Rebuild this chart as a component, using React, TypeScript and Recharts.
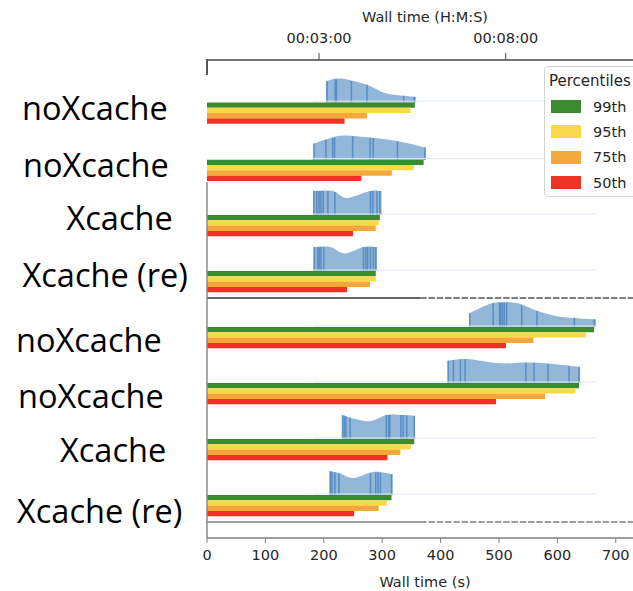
import React from 'react'
import { Bar, BarChart, Label, Legend, ReferenceLine, XAxis, YAxis } from 'recharts'

// one entry per group, top to bottom (g1-g2 belong to the upper panel)
const groupIds = ['g1', 'g2', 'g3', 'g4', 'g5', 'g6', 'g7', 'g8']
const groupLabels = [
  'noXcache',
  'noXcache',
  'Xcache',
  'Xcache (re)',
  'noXcache',
  'noXcache',
  'Xcache',
  'Xcache (re)',
]

const p99 = [334, 348, 296, 289, 663, 637, 355, 316]
const p95 = [327, 332, 294, 289, 649, 631, 349, 308]
const p75 = [257, 297, 289, 279, 559, 579, 331, 294]
const p50 = [221, 248, 250, 240, 512, 495, 309, 252]

const violinMin = [191, 171, 182, 182, 449, 412, 232, 210]
const violinMax = [336, 352, 299, 291, 666, 639, 356, 318]

// [wall time (s), relative density] along the top edge of each half violin
const violinProfile: number[][][] = [
  [[191, 0.89], [214, 1], [257, 0.74], [289, 0.37], [336, 0.23]],
  [[171, 0.67], [214, 1], [257, 0.94], [305, 0.78], [352, 0.5]],
  [[182, 1], [216, 1], [239, 0.71], [279, 1], [299, 1]],
  [[182, 1], [211, 1], [236, 0.73], [268, 1], [291, 1]],
  [[449, 0.57], [490, 1], [530, 1], [565, 0.68], [605, 0.43], [666, 0.32]],
  [[412, 0.93], [445, 1], [502, 0.82], [559, 0.85], [639, 0.67]],
  [[232, 1], [251, 0.85], [279, 0.74], [308, 1], [336, 1], [356, 0.97]],
  [[210, 1], [228, 0.9], [251, 0.71], [285, 0.96], [318, 0.86]],
]

const violinSticks = [
  [193, 206, 208, 232, 257, 316, 333],
  [172, 191, 202, 205, 234, 262, 267, 306, 350],
  [183, 188, 192, 195, 199, 207, 219, 280, 284, 291, 296],
  [184, 190, 192, 195, 200, 268, 272, 275, 280, 285, 289],
  [450, 490, 501, 503, 506, 509, 513, 539, 565, 629, 663],
  [413, 422, 434, 442, 546, 560, 584, 620, 637],
  [232, 235, 238, 245, 307, 311, 313, 332, 336, 342, 355],
  [211, 214, 219, 226, 280, 289, 293, 297, 316],
]

const topTicks = [180, 480]
const bottomTicks = [0, 100, 200, 300, 400, 500, 600, 700]

const SERIES = [
  { key: 'p99', name: '99th', color: '#3d8a30' },
  { key: 'p95', name: '95th', color: '#f9d849' },
  { key: 'p75', name: '75th', color: '#f4a83c' },
  { key: 'p50', name: '50th', color: '#ec3324' },
]

// where the big row labels sit (x start, baseline)
const LABEL_POS = [
  [22, 120],
  [23, 176.5],
  [66.5, 230],
  [22.5, 286.5],
  [16, 351.5],
  [18, 408],
  [60, 461.5],
  [17, 522.5],
]

const TICK_STYLE = { fontSize: 14.5, fill: '#262626', fontFamily: 'DejaVu Sans' }

const rows = groupIds.map((id, i) => ({
  id,
  violin: [violinMin[i], violinMax[i]],
  p99: p99[i],
  p95: p95[i],
  p75: p75[i],
  p50: p50[i],
  profile: violinProfile[i],
  sticks: violinSticks[i],
}))
const topRows = rows.slice(0, 2)
const bottomRows = rows.slice(2)

function toHMS(value: number) {
  const h = Math.floor(value / 3600)
  const m = Math.floor((value % 3600) / 60)
  const s = Math.round(value % 60)
  return [h, m, s].map((n) => String(n).padStart(2, '0')).join(':')
}

function densityAt(profile: number[][], t: number) {
  for (let i = 0; i < profile.length - 1; i++) {
    const [t0, h0] = profile[i]
    const [t1, h1] = profile[i + 1]
    if (t >= t0 && t <= t1) return h0 + ((t - t0) / (t1 - t0)) * (h1 - h0)
  }
  return profile[profile.length - 1][1]
}

function ViolinShape(props: any) {
  const { x, y, width, height, payload } = props
  const [lo, hi] = payload.violin
  const toX = (t: number) => x + ((t - lo) / (hi - lo)) * width
  const base = y + height
  const pts = payload.profile.map(([t, h]: number[]) => [toX(t), base - h * height])

  let d = `M${pts[0][0]},${base} L${pts[0][0]},${pts[0][1]}`
  for (let i = 0; i < pts.length - 1; i++) {
    const p0 = pts[i - 1] || pts[i]
    const p1 = pts[i]
    const p2 = pts[i + 1]
    const p3 = pts[i + 2] || p2
    const c1x = p1[0] + (p2[0] - p0[0]) / 6
    const c1y = p1[1] + (p2[1] - p0[1]) / 6
    const c2x = p2[0] - (p3[0] - p1[0]) / 6
    const c2y = p2[1] - (p3[1] - p1[1]) / 6
    d += ` C${c1x},${c1y} ${c2x},${c2y} ${p2[0]},${p2[1]}`
  }
  d += ` L${pts[pts.length - 1][0]},${base} Z`

  return (
    <g>
      <path d={d} fill="#93b7d8" stroke="none" />
      {payload.sticks.map((t: number, i: number) => (
        <line
          key={i}
          x1={toX(t)}
          x2={toX(t)}
          y1={base}
          y2={base - densityAt(payload.profile, t) * height}
          stroke="#4d86bf"
          strokeOpacity={0.85}
          strokeWidth={1.5}
        />
      ))}
    </g>
  )
}

function PercentileLegend({ payload }: any) {
  const order = SERIES.map((s) => s.name)
  const items = (payload || [])
    .filter((p: any) => p.type !== 'none')
    .sort((a: any, b: any) => order.indexOf(a.value) - order.indexOf(b.value))
  return (
    <div
      style={{
        boxSizing: 'border-box',
        position: 'relative',
        width: 110,
        height: 131,
        border: '1px solid #d4d4d4',
        borderRadius: 4,
        background: '#fff',
        fontFamily: 'DejaVu Sans',
        color: '#262626',
      }}
    >
      <div style={{ position: 'absolute', left: 4, top: 7, fontSize: 15, lineHeight: '15px' }}>
        Percentiles
      </div>
      {items.map((entry: any, i: number) => {
        const cy = 39.5 + i * 25.4
        return (
          <React.Fragment key={entry.value}>
            <div
              style={{
                position: 'absolute',
                left: 6,
                top: cy - 6.5,
                width: 30,
                height: 13,
                background: entry.color,
              }}
            />
            <div
              style={{
                position: 'absolute',
                left: 48,
                top: cy - 8,
                fontSize: 14.5,
                lineHeight: '16px',
              }}
            >
              {entry.value}
            </div>
          </React.Fragment>
        )
      })}
    </div>
  )
}

function PercentileBars() {
  return SERIES.map((s) => (
    <Bar
      key={s.key}
      dataKey={s.key}
      name={s.name}
      fill={s.color}
      barSize={5.3}
      isAnimationActive={false}
    />
  ))
}

export default function App() {
  return (
    <div
      style={{
        position: 'absolute',
        left: 0,
        top: 0,
        width: 633,
        height: 591,
        overflow: 'hidden',
        background: '#fff',
      }}
    >
      {/* lower panels: groups 3-8 on the seconds axis */}
      <div style={{ position: 'absolute', left: 0, top: 0 }}>
        <BarChart
          layout="vertical"
          width={633}
          height={591}
          data={bottomRows}
          margin={{ top: 182, right: 0, bottom: 0, left: 0 }}
          barGap={0}
          barCategoryGap={0}
        >
          <XAxis
            type="number"
            domain={[0, 729.5]}
            ticks={bottomTicks}
            allowDataOverflow
            height={53}
            tickSize={5}
            tickMargin={7}
            tick={TICK_STYLE}
            axisLine={{ stroke: '#808080', strokeWidth: 1.3 }}
            tickLine={{ stroke: '#808080' }}
          >
            <Label
              value="Wall time (s)"
              position="insideBottom"
              offset={4.5}
              dx={5}
              style={{ ...TICK_STYLE, textAnchor: 'middle' }}
            />
          </XAxis>
          <YAxis
            type="category"
            dataKey="id"
            width={207}
            padding={{ top: 4, bottom: 16 }}
            tick={false}
            tickSize={3}
            axisLine={{ stroke: '#8a8a8a', strokeWidth: 1.5 }}
            tickLine={{ stroke: '#444' }}
          />
          {bottomRows.map((r) => (
            <ReferenceLine
              key={r.id}
              segment={[
                { x: 182, y: r.id },
                { x: 667, y: r.id },
              ]}
              stroke="#dde8f3"
              strokeWidth={1}
            />
          ))}
          <Bar
            dataKey="violin"
            barSize={24}
            legendType="none"
            shape={<ViolinShape />}
            isAnimationActive={false}
          />
          {PercentileBars()}
          <ReferenceLine
            segment={[
              { x: 0, y: 'g5' },
              { x: 365, y: 'g5' },
            ]}
            position="start"
            stroke="#333"
            strokeWidth={1.5}
          />
          <ReferenceLine
            segment={[
              { x: 365, y: 'g5' },
              { x: 729.5, y: 'g5' },
            ]}
            position="start"
            stroke="#555"
            strokeWidth={1.5}
            strokeDasharray="6.5 1.8"
          />
          <ReferenceLine
            segment={[
              { x: 0, y: 'g8' },
              { x: 365, y: 'g8' },
            ]}
            position="end"
            stroke="#808080"
            strokeWidth={1.5}
          />
          <ReferenceLine
            segment={[
              { x: 365, y: 'g8' },
              { x: 729.5, y: 'g8' },
            ]}
            position="end"
            stroke="#808080"
            strokeWidth={1.5}
            strokeDasharray="6.5 1.8"
          />
        </BarChart>
      </div>

      {/* upper panel: groups 1-2 on the H:M:S axis */}
      <div style={{ position: 'absolute', left: 0, top: 0 }}>
        <BarChart
          layout="vertical"
          width={633}
          height={187}
          data={topRows}
          margin={{ top: 0, right: 0, bottom: 0, left: 0 }}
          barGap={0}
          barCategoryGap={0}
        >
          <XAxis
            type="number"
            orientation="top"
            domain={[0, 684.5]}
            ticks={topTicks}
            allowDataOverflow
            height={60}
            tickSize={7}
            tickMargin={10}
            tickFormatter={toHMS}
            tick={TICK_STYLE}
            axisLine={{ stroke: '#444', strokeWidth: 1.3 }}
            tickLine={{ stroke: '#444' }}
          >
            <Label
              value="Wall time (H:M:S)"
              position="insideTop"
              offset={12}
              dx={5}
              style={{ ...TICK_STYLE, textAnchor: 'middle' }}
            />
          </XAxis>
          <YAxis
            type="category"
            dataKey="id"
            width={207}
            padding={{ top: 12.5, bottom: 0 }}
            tick={false}
            tickLine={false}
            axisLine={false}
          />
          {topRows.map((r) => (
            <ReferenceLine
              key={r.id}
              segment={[
                { x: 170, y: r.id },
                { x: 684, y: r.id },
              ]}
              stroke="#dde8f3"
              strokeWidth={1}
            />
          ))}
          <Bar
            dataKey="violin"
            barSize={24}
            legendType="none"
            shape={<ViolinShape />}
            isAnimationActive={false}
          />
          {PercentileBars()}
          <Legend
            layout="vertical"
            align="center"
            verticalAlign="middle"
            content={<PercentileLegend />}
            wrapperStyle={{ left: 544, top: 66, width: 110, height: 131 }}
          />
        </BarChart>
      </div>

      {/* cropped left spine of the upper panel */}
      <div
        style={{
          position: 'absolute',
          left: 206,
          top: 59,
          width: 1.5,
          height: 16,
          background: '#555',
        }}
      />

      <svg
        width={633}
        height={591}
        style={{ position: 'absolute', left: 0, top: 0, pointerEvents: 'none' }}
      >
        {groupLabels.map((label, i) => (
          <text
            key={i}
            x={LABEL_POS[i][0]}
            y={LABEL_POS[i][1]}
            fontFamily="Open Sans"
            fontSize={32.5}
            fill="#000"
          >
            {label}
          </text>
        ))}
      </svg>
    </div>
  )
}
